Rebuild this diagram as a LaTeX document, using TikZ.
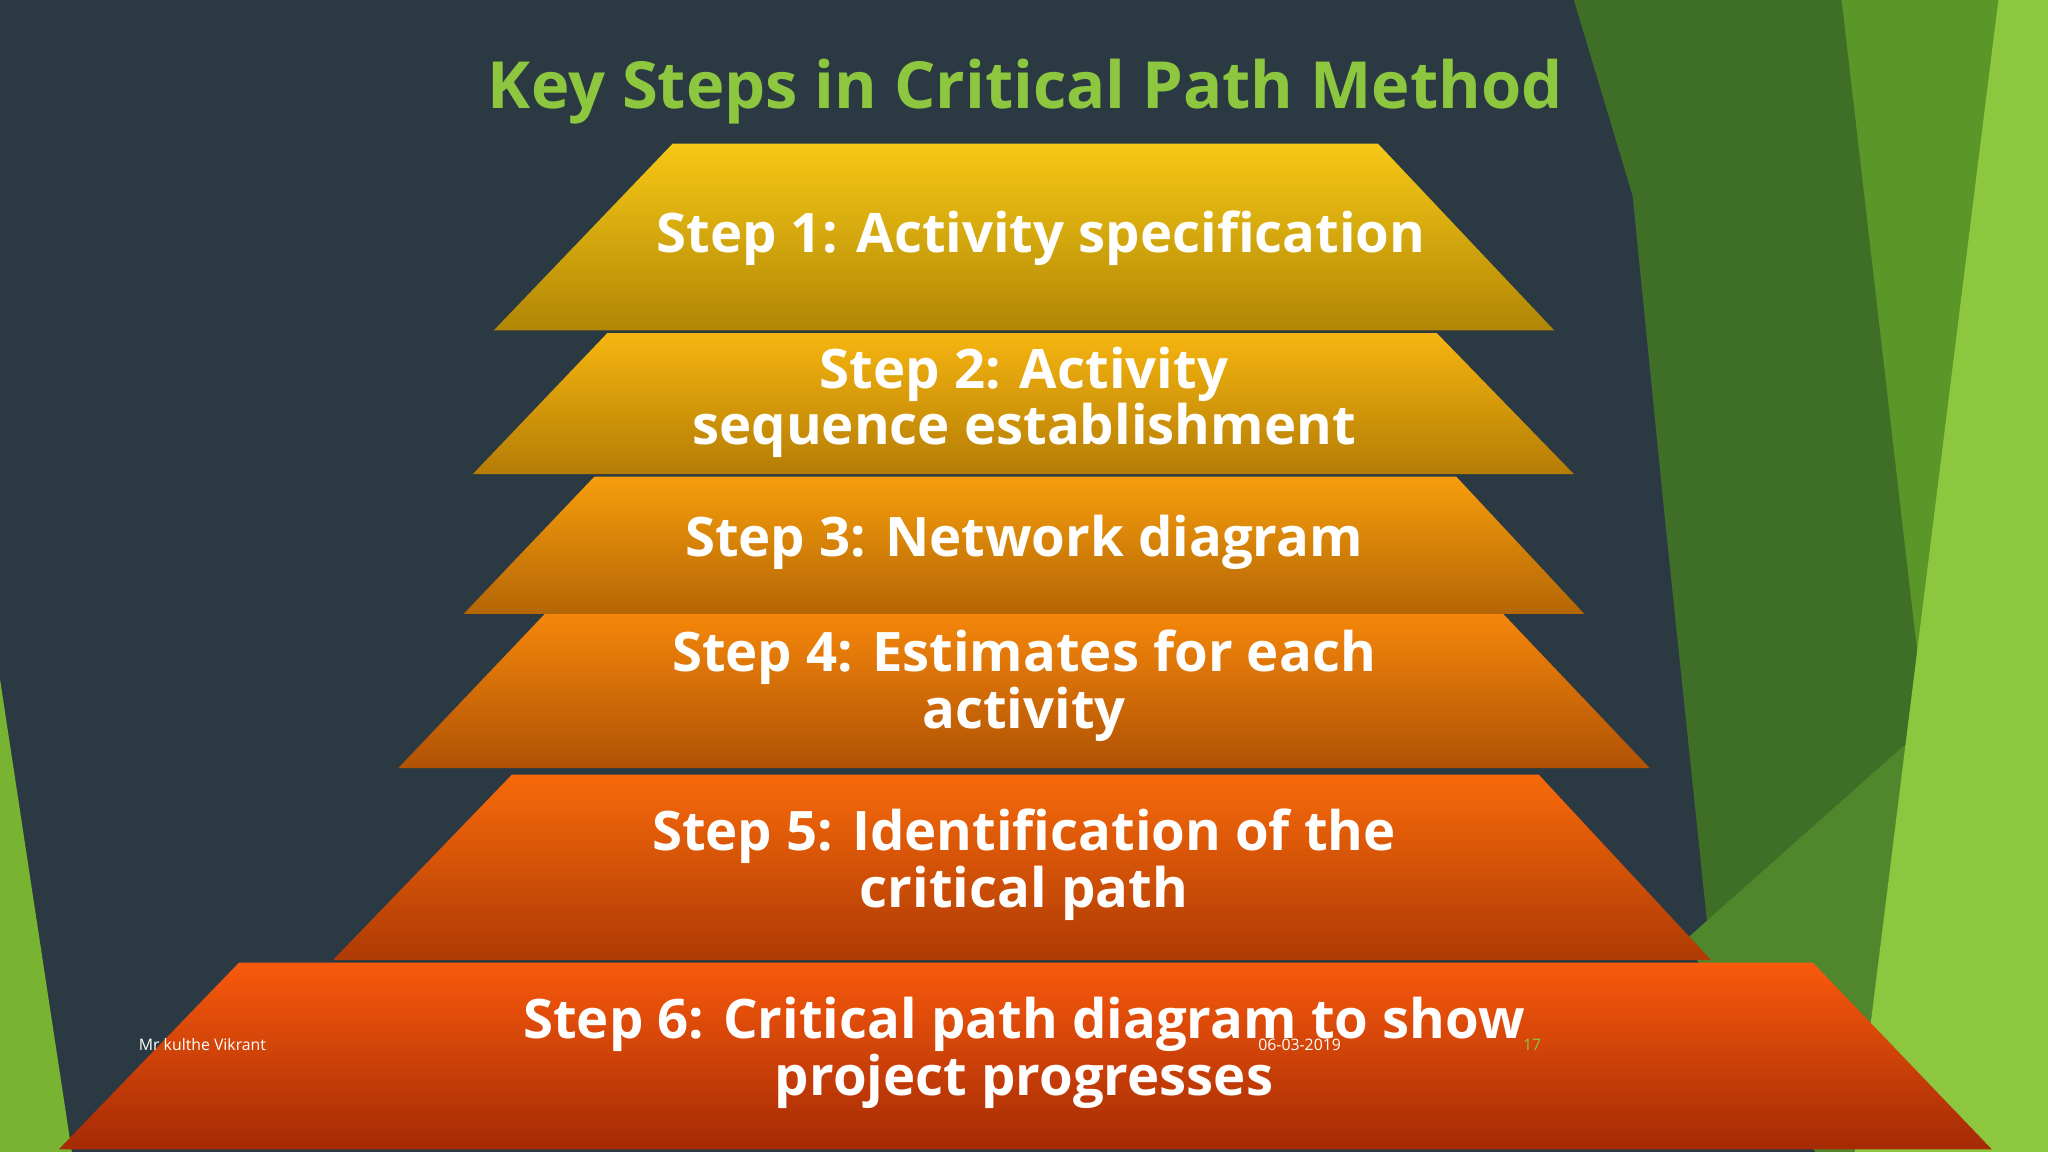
\documentclass[tikz,border=0pt]{standalone}
\usepackage{fontspec}
\setmainfont{Open Sans}
\begin{document}
\begin{tikzpicture}[x=0.013061cm,y=-0.013061cm,
  steptxt/.style={text=white,font=\bfseries\fontsize{15.5}{18}\selectfont,align=center},
  foot/.style={text=white,font=\fontsize{4.5}{5}\selectfont}]
\fill[fill={rgb,255:red,43;green,58;blue,66}] (0,0) rectangle (1568,882);
\useasboundingbox (0,0) rectangle (1568,882);
% green shapes
\fill[fill={rgb,255:red,63;green,110;blue,39}] (1205,0)--(1568,0)--(1568,882)--(1390,882)--(1310,735)--(1275,400)--(1250,150)--cycle;
\fill[fill={rgb,255:red,90;green,150;blue,40}] (1410,0)--(1530,0)--(1475,560)--cycle;
\fill[fill={rgb,255:red,80;green,135;blue,45}] (1290,720)--(1470,560)--(1440,882)--(1390,882)--cycle;
\fill[fill={rgb,255:red,141;green,198;blue,63}] (1530,0)--(1568,0)--(1568,882)--(1420,882)--cycle;
\fill[fill={rgb,255:red,120;green,180;blue,50}] (0,520)--(55,882)--(0,882)--cycle;
\node[text={rgb,255:red,141;green,198;blue,63},font=\bfseries\fontsize{18.5}{22}\selectfont] (title) at (785,70) {Key Steps in Critical Path Method};
\definecolor{t1}{HTML}{F7C816}\definecolor{b1}{HTML}{B08605}
\definecolor{t2}{HTML}{F6B510}\definecolor{b2}{HTML}{B47C05}
\definecolor{t3}{HTML}{F69E0C}\definecolor{b3}{HTML}{B46505}
\definecolor{t4}{HTML}{F6880A}\definecolor{b4}{HTML}{B05205}
\definecolor{t5}{HTML}{F76A0A}\definecolor{b5}{HTML}{AE3A05}
\definecolor{t6}{HTML}{F85A0C}\definecolor{b6}{HTML}{A42A05}
\shade[top color=t6,bottom color=b6] (183,737)--(1388,737)--(1525,880)--(45,880)--cycle;
\shade[top color=t5,bottom color=b5] (392,593)--(1178,593)--(1310,735)--(255,735)--cycle;
\shade[top color=t4,bottom color=b4] (420,467)--(1148,467)--(1263,588)--(305,588)--cycle;
\shade[top color=t3,bottom color=b3] (455,365)--(1115,365)--(1213,470)--(355,470)--cycle;
\shade[top color=t2,bottom color=b2] (465,255)--(1100,255)--(1205,363)--(362,363)--cycle;
\shade[top color=t1,bottom color=b1] (515,110)--(1055,110)--(1190,253)--(378,253)--cycle;
\node[steptxt] (s1) at (797,182) {Step 1: Activity specification};
\node[steptxt] (s2) at (784,308) {Step 2: Activity\\[-2pt]sequence establishment};
\node[steptxt] (s3) at (784,415) {Step 3: Network diagram};
\node[steptxt] (s4) at (784,525) {Step 4: Estimates for each\\[-2pt]activity};
\node[steptxt] (s5) at (784,662) {Step 5: Identification of the\\[-2pt]critical path};
\node[steptxt] (s6) at (784,806) {Step 6: Critical path diagram to show\\[-2pt]project progresses};
\node[foot] (f1) at (155,800) {Mr kulthe Vikrant};
\node[foot] (f2) at (995,800) {06-03-2019};
\node[foot,text={rgb,255:red,141;green,198;blue,63}] (f3) at (1173,800) {17};
\end{tikzpicture}
\end{document}
